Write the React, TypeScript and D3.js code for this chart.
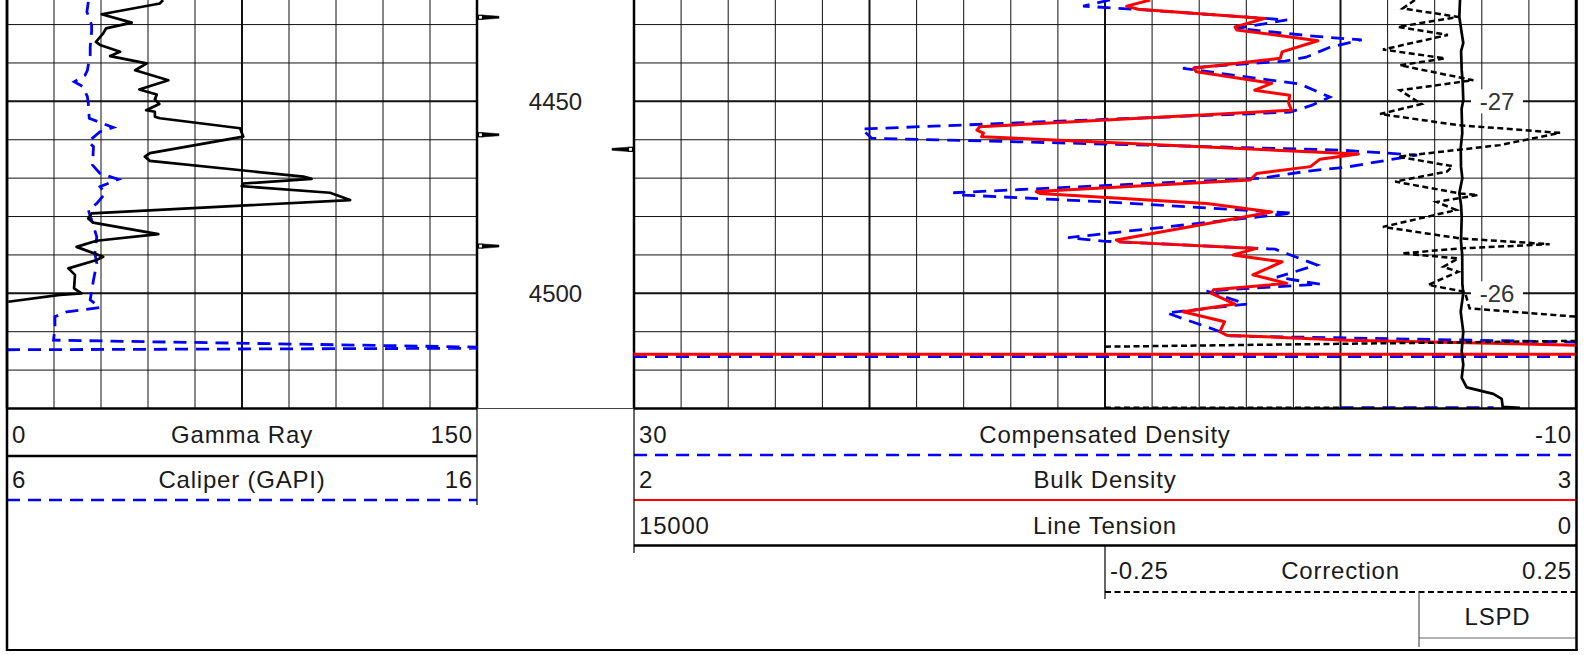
import React, { useEffect, useRef } from "react";
import * as d3 from "d3";

const W = 1592;
const H = 655;

// depth window shown in the tracks
const depthRange = [4423.6, 4530];
const depthLabels = [4450, 4500];
const gridDepths = [4430, 4440, 4450, 4460, 4470, 4480, 4490, 4500, 4510, 4520, 4530];

// Gamma Ray (0 - 150)
const grDepth = [4423.6, 4424.5, 4427.3, 4429.5, 4431.0, 4432.3, 4434.5, 4435.3, 4437.1, 4438.2, 4440.1, 4441.9, 4444.5, 4446.9, 4448.2, 4449.5, 4450.7, 4452.3, 4452.7, 4454.0, 4454.4, 4457.0, 4459.2, 4463.5, 4464.4, 4465.5, 4469.6, 4470.2, 4471.4, 4472.1, 4473.8, 4475.7, 4479.2, 4480.5, 4481.6, 4484.6, 4486.3, 4487.9, 4490.5, 4491.3, 4493.5, 4495.2, 4498.7, 4500.0, 4500.4, 4502.2];
const grValue = [49.8, 48.8, 30.2, 39.8, 31.6, 30.7, 28.4, 29.7, 36.1, 32.9, 44.6, 40.9, 51.5, 42.2, 47.8, 47.2, 48.6, 44.4, 47.2, 47.2, 48.8, 74.4, 75.4, 45.6, 44.0, 45.6, 94.6, 97.2, 75.4, 74.9, 103.1, 109.5, 27.0, 25.9, 27.5, 48.3, 28.6, 22.2, 30.7, 28.6, 19.6, 21.7, 21.4, 23.8, 16.9, 0.4];

// Caliper (6 - 16), null = break in the curve
const calDepth = [4424.1, 4426.7, 4430.1, 4431.9, 4435.8, 4437.9, 4441.9, 4443.2, 4444.9, 4446.2, 4448.8, 4450.5, 4454.4, 4456.8, 4457.9, 4460.5, 4461.8, 4466.6, 4468.8, 4470.3, 4472.2, 4474.0, 4476.6, 4478.3, 4480.9, 4485.3, 4489.6, 4492.2, 4496.5, 4501.7, 4503.7, 4504.8, 4506.1, 4509.1, 4512.2, 4514.0, 4514.0, 4514.7, 4514.3];
const calValue = [7.73, 7.70, 7.80, 7.80, 7.77, 7.77, 7.71, 7.66, 7.43, 7.62, 7.71, 7.73, 7.75, 8.26, 7.98, 7.73, 7.84, 7.82, 7.98, 8.37, 7.98, 8.09, 7.91, 7.73, 7.80, 7.91, 7.87, 7.91, 7.84, 7.77, 7.98, 7.27, 7.02, 7.02, 6.99, 16.0, null, 6.0, 16.0];

// Compensated Density (30 - -10)
const cdDepth = [4423.6, 4425.2, 4426.1, 4428.8, 4431.0, 4433.0, 4434.0, 4435.9, 4438.5, 4439.5, 4441.4, 4445.5, 4448.9, 4451.0, 4452.8, 4457.2, 4459.6, 4460.9, 4462.7, 4464.0, 4467.1, 4468.2, 4470.0, 4473.8, 4474.4, 4476.2, 4479.1, 4485.5, 4486.4, 4488.5, 4492.6, 4495.8, 4497.6, 4499.4, 4502.8, 4505.1, 4509.8, 4511.1, 4512.7, 4512.7, 4516.5, 4516.5, 4516.5, 4529.8, 4529.8];
const cdValue = [9.79, 10.93, 8.51, 2.27, 4.41, 1.17, -0.90, 0.45, 1.46, 2.36, 6.69, 1.72, 0.45, 1.21, 2.14, 20.33, 19.91, 11.36, 0.02, -3.25, -0.28, 1.42, 3.33, 16.44, 16.02, 9.93, 2.02, 11.57, 10.08, 2.78, 1.0, 2.70, 0.87, 5.68, 3.98, 7.38, 5.19, 4.69, -10.0, null, 30, -10, null, 0.0, -6.5];

// Bulk Density (2 - 3)
const bdDepth = [4423.6, 4425.2, 4426.0, 4428.4, 4430.6, 4431.4, 4434.2, 4437.1, 4438.8, 4441.4, 4442.3, 4445.3, 4447.1, 4448.4, 4450.5, 4452.3, 4456.6, 4457.5, 4458.3, 4459.2, 4463.7, 4465.1, 4467.0, 4468.8, 4470.5, 4473.5, 4474.0, 4476.6, 4478.8, 4486.1, 4486.6, 4488.3, 4490.0, 4491.8, 4495.2, 4497.4, 4499.1, 4500.0, 4502.8, 4504.8, 4507.4, 4510.0, 4510.9, 4512.2, 4513.5, 4513.5, 4515.9, 4515.9];
const bdValue = [2.548, 2.523, 2.535, 2.670, 2.638, 2.640, 2.726, 2.688, 2.686, 2.594, 2.597, 2.677, 2.659, 2.696, 2.695, 2.698, 2.367, 2.364, 2.371, 2.369, 2.769, 2.728, 2.718, 2.661, 2.654, 2.427, 2.431, 2.608, 2.677, 2.512, 2.516, 2.661, 2.636, 2.688, 2.657, 2.693, 2.615, 2.613, 2.638, 2.583, 2.627, 2.622, 2.629, 2.757, 3.0, null, 2.0, 3.0];

// Line Tension (15000 - 0)
const tenDepth = [4423.6, 4428.0, 4432.2, 4434.8, 4436.9, 4441.8, 4445.0, 4449.7, 4452.0, 4458.3, 4462.0, 4467.0, 4470.0, 4473.9, 4477.0, 4480.2, 4486.4, 4490.0, 4497.5, 4500.0, 4504.8, 4510.0, 4515.0, 4518.6, 4522.0, 4524.5, 4526.2, 4527.5, 4529.6, 4529.8];
const tenValue = [1847, 1858, 1820, 1795, 1830, 1820, 1805, 1795, 1822, 1811, 1835, 1831, 1810, 1858, 1830, 1820, 1831, 1812, 1810, 1795, 1836, 1795, 1820, 1795, 1820, 1740, 1317, 1183, 1167, 892];

// Correction (-0.25 - 0.25)
const corrDepth = [4423.6, 4425.8, 4428.0, 4430.6, 4432.7, 4436.5, 4438.8, 4440.6, 4444.5, 4447.1, 4450.7, 4453.3, 4456.2, 4458.2, 4461.4, 4464.4, 4466.9, 4468.3, 4470.9, 4474.0, 4474.4, 4476.2, 4478.3, 4482.7, 4485.7, 4487.2, 4488.3, 4489.6, 4490.9, 4493.1, 4494.4, 4497.8, 4499.6, 4503.9, 4506.1, 4506.1, 4513.9, 4512.4, 4512.4, 4529.8, 4529.8];
const corrValue = [0.079, 0.066, 0.125, 0.061, 0.114, 0.045, 0.111, 0.063, 0.141, 0.063, 0.086, 0.042, 0.125, 0.233, 0.169, 0.061, 0.119, 0.113, 0.058, 0.127, 0.146, 0.102, 0.123, 0.045, 0.127, 0.222, 0.127, 0.065, 0.125, 0.109, 0.125, 0.093, 0.132, 0.137, 0.251, null, -0.25, 0.25, null, -0.25, 0.0];

// LSPD annotations
const lspdDepth = [4450, 4500];
const lspdText = ["-27", "-26"];

// little tick marks in the depth track
const markLeft = [4428.1, 4458.7, 4487.7];
const markRight = [4462.5];

// header labels
const leftNames = ["Gamma Ray", "Caliper (GAPI)"];
const leftMin = ["0", "6"];
const leftMax = ["150", "16"];
const rightNames = ["Compensated Density", "Bulk Density", "Line Tension"];
const rightMin = ["30", "2", "15000"];
const rightMax = ["-10", "3", "0"];
const corrHeader = ["-0.25", "Correction", "0.25"];
const lspdHeader = "LSPD";

export default function App() {
  const ref = useRef<SVGSVGElement>(null);

  useEffect(() => {
    const svg = d3.select(ref.current);
    svg.selectAll("*").remove();

    const t1 = { x0: 7, x1: 477 };
    const t3 = { x0: 634, x1: 1576 };
    const cx0 = 1105;
    const lx0 = 1419;
    const top = 0, bot = 408.5;
    const font = "'Liberation Sans', Arial, Helvetica, sans-serif";

    const y = d3.scaleLinear().domain(depthRange).range([top, bot]);
    const xGR = d3.scaleLinear().domain([0, 150]).range([t1.x0, t1.x1]);
    const xCal = d3.scaleLinear().domain([6, 16]).range([t1.x0, t1.x1]);
    const xCD = d3.scaleLinear().domain([30, -10]).range([t3.x0, t3.x1]);
    const xBD = d3.scaleLinear().domain([2, 3]).range([t3.x0, t3.x1]);
    const xTen = d3.scaleLinear().domain([15000, 0]).range([t3.x0, t3.x1]);
    const xCorr = d3.scaleLinear().domain([-0.25, 0.25]).range([cx0, t3.x1]);

    const defs = svg.append("defs");
    defs.append("clipPath").attr("id", "clip1")
      .append("rect").attr("x", t1.x0).attr("y", top).attr("width", t1.x1 - t1.x0).attr("height", bot - top);
    defs.append("clipPath").attr("id", "clip3")
      .append("rect").attr("x", t3.x0).attr("y", top).attr("width", t3.x1 - t3.x0).attr("height", bot - top);

    // grid
    const grid = svg.append("g");
    [{ t: t1, n: 10 }, { t: t3, n: 20 }].forEach(({ t, n }) => {
      const gx = d3.scaleLinear().domain([0, n]).range([t.x0, t.x1]);
      d3.range(1, n).forEach(k => {
        grid.append("line")
          .attr("x1", gx(k)).attr("x2", gx(k)).attr("y1", top).attr("y2", bot)
          .attr("stroke", "#111").attr("stroke-width", k % 5 === 0 ? 2 : 1);
      });
      gridDepths.forEach(d => {
        grid.append("line")
          .attr("x1", t.x0).attr("x2", t.x1).attr("y1", y(d)).attr("y2", y(d))
          .attr("stroke", "#111").attr("stroke-width", d % 50 === 0 ? 2 : 1);
      });
      grid.append("line").attr("x1", t.x0).attr("x2", t.x0).attr("y1", top).attr("y2", bot)
        .attr("stroke", "#000").attr("stroke-width", 2.5);
      grid.append("line").attr("x1", t.x1).attr("x2", t.x1).attr("y1", top).attr("y2", bot)
        .attr("stroke", "#000").attr("stroke-width", 2.5);
    });
    grid.append("line").attr("x1", t1.x1).attr("x2", t3.x0).attr("y1", bot).attr("y2", bot)
      .attr("stroke", "#444").attr("stroke-width", 1);

    // depth labels
    svg.append("g").selectAll("text").data(depthLabels).join("text")
      .attr("x", (t1.x1 + t3.x0) / 2).attr("y", d => y(d)).attr("dy", "0.36em")
      .attr("text-anchor", "middle").attr("font-family", font).attr("font-size", 24)
      .attr("fill", "#222").text(d => d);

    // tick marks in depth track
    const marks = svg.append("g").attr("fill", "#000").attr("stroke", "#000");
    markLeft.forEach(d => {
      const yy = y(d);
      marks.append("rect").attr("x", t1.x1 + 1.5).attr("y", yy - 2).attr("width", 4).attr("height", 4)
        .attr("fill", "#fff").attr("stroke-width", 1.2);
      marks.append("path").attr("stroke-width", 0.5)
        .attr("d", `M${t1.x1 + 5.5},${yy - 2.2}L${t1.x1 + 22},${yy - 1}L${t1.x1 + 22},${yy + 1}L${t1.x1 + 5.5},${yy + 2.2}Z`);
    });
    markRight.forEach(d => {
      const yy = y(d);
      marks.append("rect").attr("x", t3.x0 - 5.5).attr("y", yy - 2).attr("width", 4).attr("height", 4)
        .attr("fill", "#fff").attr("stroke-width", 1.2);
      marks.append("path").attr("stroke-width", 0.5)
        .attr("d", `M${t3.x0 - 5.5},${yy - 2.2}L${t3.x0 - 22},${yy - 1}L${t3.x0 - 22},${yy + 1}L${t3.x0 - 5.5},${yy + 2.2}Z`);
    });

    // LSPD labels sitting on the grid
    const lspd = svg.append("g");
    lspdDepth.forEach((d, i) => {
      lspd.append("rect").attr("x", 1471).attr("y", y(d) - 12).attr("width", 52).attr("height", 24).attr("fill", "#fff");
      lspd.append("text").attr("x", 1497).attr("y", y(d)).attr("dy", "0.36em")
        .attr("text-anchor", "middle").attr("font-family", font).attr("font-size", 24)
        .attr("fill", "#333").text(lspdText[i]);
    });

    const curve = (depths: number[], vals: (number | null)[], xs: any) =>
      d3.line<number>()
        .defined(i => vals[i] !== null)
        .x(i => xs(vals[i] as number))
        .y(i => y(depths[i]))(d3.range(depths.length));

    const c1 = svg.append("g").attr("clip-path", "url(#clip1)").attr("fill", "none");
    c1.append("path").attr("d", curve(calDepth, calValue, xCal))
      .attr("stroke", "#0000ff").attr("stroke-width", 2.8).attr("stroke-dasharray", "13,8");
    c1.append("path").attr("d", curve(grDepth, grValue, xGR))
      .attr("stroke", "#000").attr("stroke-width", 2.7).attr("stroke-linejoin", "round");

    const c3 = svg.append("g").attr("clip-path", "url(#clip3)").attr("fill", "none");
    c3.append("path").attr("d", curve(cdDepth, cdValue, xCD))
      .attr("stroke", "#0000ff").attr("stroke-width", 2.8).attr("stroke-dasharray", "13,8");
    c3.append("path").attr("d", curve(bdDepth, bdValue, xBD))
      .attr("stroke", "#ff0000").attr("stroke-width", 3).attr("stroke-linejoin", "round");
    c3.append("path").attr("d", curve(corrDepth, corrValue, xCorr))
      .attr("stroke", "#000").attr("stroke-width", 2.5).attr("stroke-dasharray", "6,3.5");
    c3.append("path").attr("d", curve(tenDepth, tenValue, xTen))
      .attr("stroke", "#000").attr("stroke-width", 2.7).attr("stroke-linejoin", "round");

    // track bottom line
    svg.append("line").attr("x1", t1.x0).attr("x2", t1.x1).attr("y1", bot).attr("y2", bot)
      .attr("stroke", "#000").attr("stroke-width", 2.5);
    svg.append("line").attr("x1", t3.x0).attr("x2", t3.x1).attr("y1", bot).attr("y2", bot)
      .attr("stroke", "#000").attr("stroke-width", 2.5);

    // headers
    const hd = svg.append("g");
    const txt = (x: number, yy: number, anchor: string, s: string) =>
      hd.append("text").attr("x", x).attr("y", yy).attr("dy", "0.36em").attr("text-anchor", anchor)
        .attr("font-family", font).attr("font-size", 24).attr("letter-spacing", 0.8)
        .attr("fill", "#1a1a1a").text(s);
    const hline = (x1: number, x2: number, yy: number, color: string, w: number, dash?: string) => {
      const l = hd.append("line").attr("x1", x1).attr("x2", x2).attr("y1", yy).attr("y2", yy)
        .attr("stroke", color).attr("stroke-width", w);
      if (dash) l.attr("stroke-dasharray", dash);
    };
    const vline = (x: number, y1: number, y2: number, color: string, w: number) =>
      hd.append("line").attr("x1", x).attr("x2", x).attr("y1", y1).attr("y2", y2)
        .attr("stroke", color).attr("stroke-width", w);

    const rowY = [434, 479, 525];
    leftNames.forEach((n, i) => {
      txt(t1.x0 + 5, rowY[i], "start", leftMin[i]);
      txt((t1.x0 + t1.x1) / 2, rowY[i], "middle", n);
      txt(t1.x1 - 4, rowY[i], "end", leftMax[i]);
    });
    hline(t1.x0, t1.x1, 456, "#000", 2.5);
    hline(t1.x0, t1.x1, 500, "#0000ff", 2.5, "13,8");
    vline(t1.x1, bot, 505, "#000", 1.2);

    rightNames.forEach((n, i) => {
      txt(t3.x0 + 5, rowY[i], "start", rightMin[i]);
      txt((t3.x0 + t3.x1) / 2, rowY[i], "middle", n);
      txt(t3.x1 - 4, rowY[i], "end", rightMax[i]);
    });
    hline(t3.x0, t3.x1, 455, "#0000ff", 2.5, "13,8");
    hline(t3.x0, t3.x1, 500, "#ff0000", 2);
    hline(t3.x0, t3.x1, 545.5, "#000", 2.5);
    vline(t3.x0, bot, 553, "#000", 1.2);

    txt(cx0 + 5, 570, "start", corrHeader[0]);
    txt((cx0 + t3.x1) / 2, 570, "middle", corrHeader[1]);
    txt(t3.x1 - 4, 570, "end", corrHeader[2]);
    hline(cx0, t3.x1, 592, "#000", 2.2, "6,3.5");
    vline(cx0, 545.5, 599, "#000", 1.2);

    txt((lx0 + t3.x1) / 2, 616, "middle", lspdHeader);
    hline(lx0, t3.x1, 638, "#666", 1.2);
    vline(lx0, 592, 647, "#555", 1.2);

    // outer frame
    vline(t1.x0, 0, 651, "#000", 2.5);
    vline(t3.x1 + 0.5, 0, 651, "#000", 2.5);
    hline(t1.x0 - 1, t3.x1 + 1.5, 650, "#000", 2.2);
  }, []);

  return (
    <svg ref={ref} width={W} height={H}
      style={{ position: "absolute", left: 0, top: 0, background: "#fff" }} />
  );
}
